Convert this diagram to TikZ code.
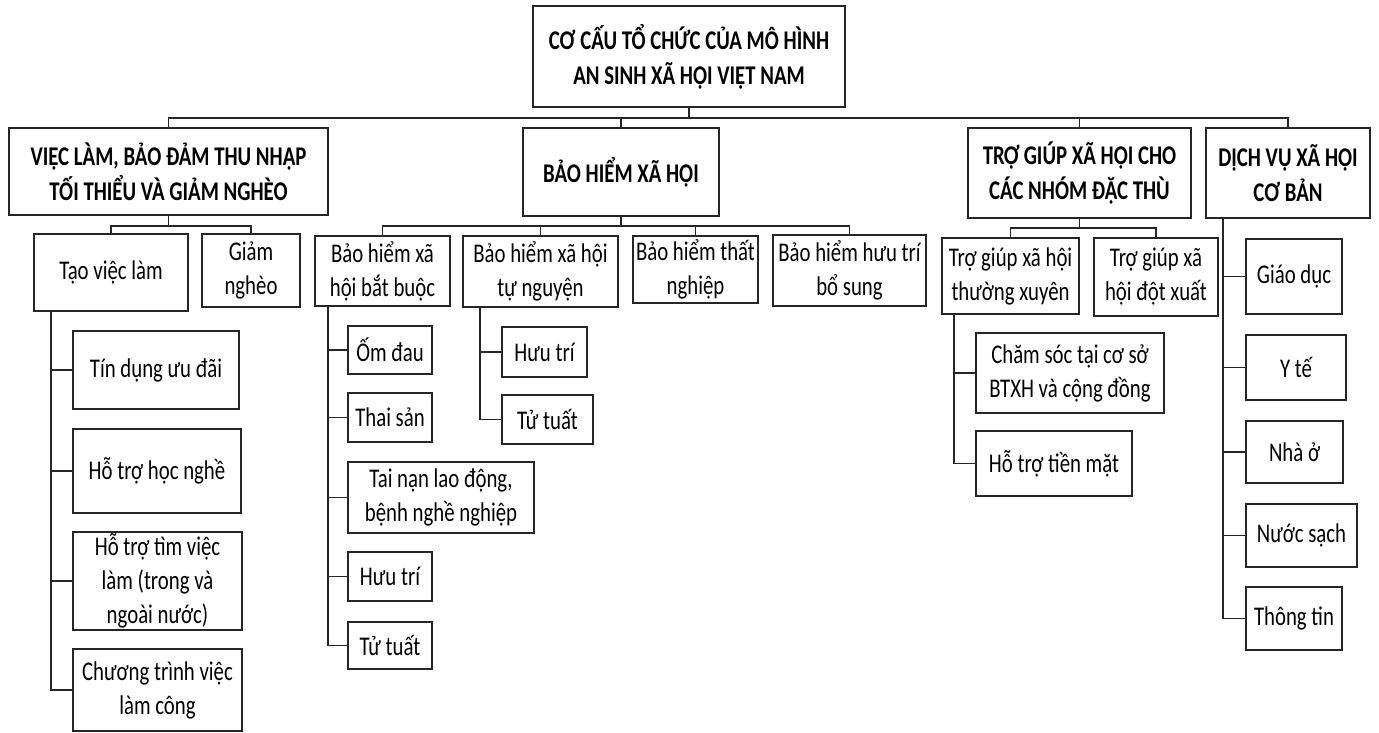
\documentclass[tikz,border=0pt]{standalone}
\usepackage{fontspec}
\setmainfont{Carlito}[FakeStretch=0.77]
\begin{document}
\begin{tikzpicture}[x=1pt,y=-1pt,
  box/.style={draw=black!85, line width=1.8pt, inner sep=0pt, outer sep=0pt,
    anchor=north west, align=center, text=black,
    font=\fontsize{27}{34}\selectfont},
  head/.style={box, font=\fontsize{27}{35}\selectfont\bfseries},
  conn/.style={draw=black!85, line width=1.8pt}]
\fill[white] (0,0) rectangle (1379,732);
\useasboundingbox (0,0) rectangle (1379,732);
% level 0
\node[head, minimum width=312pt, minimum height=101pt] (root) at (533,6) {CƠ CẤU TỔ CHỨC CỦA MÔ HÌNH\\AN SINH XÃ HỘI VIỆT NAM};
% level 1
\node[head, minimum width=319pt, minimum height=87pt] (A) at (9,128) {VIỆC LÀM, BẢO ĐẢM THU NHẬP\\TỐI THIỂU VÀ GIẢM NGHÈO};
\node[head, minimum width=196pt, minimum height=88pt] (B) at (523,128) {BẢO HIỂM XÃ HỘI};
\node[head, minimum width=223pt, minimum height=90pt] (C) at (968,128) {TRỢ GIÚP XÃ HỘI CHO\\CÁC NHÓM ĐẶC THÙ};
\node[head, minimum width=164pt, minimum height=90pt] (D) at (1206,128) {DỊCH VỤ XÃ HỘI\\CƠ BẢN};
% under A
\node[box, minimum width=154pt, minimum height=77pt] (tao) at (34,234) {Tạo việc làm};
\node[box, minimum width=98pt, minimum height=73pt] (giam) at (202,234) {Giảm\\nghèo};
\node[box, minimum width=166pt, minimum height=78pt] (tin) at (73,331) {Tín dụng ưu đãi};
\node[box, minimum width=168pt, minimum height=84pt] (hoc) at (73,429) {Hỗ trợ học nghề};
\node[box, minimum width=169pt, minimum height=98pt] (tim) at (73,532) {Hỗ trợ tìm việc\\làm (trong và\\ngoài nước)};
\node[box, minimum width=169pt, minimum height=82pt] (ct) at (73,649) {Chương trình việc\\làm công};
% under B
\node[box, minimum width=135pt, minimum height=70pt] (bb) at (315,236) {Bảo hiểm xã\\hội bắt buộc};
\node[box, minimum width=155pt, minimum height=71pt] (tn) at (463,236) {Bảo hiểm xã hội\\tự nguyện};
\node[box, minimum width=125pt, minimum height=67pt] (that) at (633,236) {Bảo hiểm thất\\nghiệp};
\node[box, minimum width=153pt, minimum height=71pt] (bs) at (773,235) {Bảo hiểm hưu trí\\bổ sung};
\node[box, minimum width=84pt, minimum height=48pt] (om) at (348,326) {Ốm đau};
\node[box, minimum width=84pt, minimum height=49pt] (thai) at (348,393) {Thai sản};
\node[box, minimum width=186pt, minimum height=71pt] (tai) at (348,462) {Tai nạn lao động,\\bệnh nghề nghiệp};
\node[box, minimum width=84pt, minimum height=49pt] (huuA) at (348,552) {Hưu trí};
\node[box, minimum width=84pt, minimum height=47pt] (tuA) at (348,622) {Tử tuất};
\node[box, minimum width=85pt, minimum height=50pt] (huuB) at (502,327) {Hưu trí};
\node[box, minimum width=91pt, minimum height=49pt] (tuB) at (502,395) {Tử tuất};
% under C
\node[box, minimum width=137pt, minimum height=76pt] (tx) at (942,238) {Trợ giúp xã hội\\thường xuyên};
\node[box, minimum width=124pt, minimum height=78pt] (dx) at (1094,238) {Trợ giúp xã\\hội đột xuất};
\node[box, minimum width=188pt, minimum height=80pt] (cs) at (976,333) {Chăm sóc tại cơ sở\\BTXH và cộng đồng};
\node[box, minimum width=156pt, minimum height=65pt] (tm) at (976,431) {Hỗ trợ tiền mặt};
% under D
\node[box, minimum width=96pt, minimum height=75pt] (gd) at (1246,239) {Giáo dục};
\node[box, minimum width=100pt, minimum height=65pt] (yt) at (1246,335) {Y tế};
\node[box, minimum width=97pt, minimum height=62pt] (nha) at (1246,421) {Nhà ở};
\node[box, minimum width=111pt, minimum height=63pt] (nuoc) at (1246,504) {Nước sạch};
\node[box, minimum width=96pt, minimum height=63pt] (tt) at (1246,587) {Thông tin};
% connectors level 0 -> 1
\foreach \n in {A,B,C,D} \draw[conn] (root.south) -- ++(0,11) -| (\n.north);
% A -> children
\foreach \n in {tao,giam} \draw[conn] (A.south) -- ++(0,11) -| (\n.north);
\foreach \n in {tin,hoc,tim,ct} \draw[conn] ([xshift=17pt]tao.south west) |- (\n.west);
% B -> children
\foreach \n in {bb,tn,that,bs} \draw[conn] (B.south) -- ++(0,10) -| (\n.north);
\foreach \n in {om,thai,tai,huuA,tuA} \draw[conn] ([xshift=13pt]bb.south west) |- (\n.west);
\foreach \n in {huuB,tuB} \draw[conn] ([xshift=17pt]tn.south west) |- (\n.west);
% C -> children
\foreach \n in {tx,dx} \draw[conn] (C.south) -- ++(0,10) -| (\n.north);
\foreach \n in {cs,tm} \draw[conn] ([xshift=12pt]tx.south west) |- (\n.west);
% D -> children
\foreach \n in {gd,yt,nha,nuoc,tt} \draw[conn] ([xshift=17pt]D.south west) |- (\n.west);
\end{tikzpicture}
\end{document}
